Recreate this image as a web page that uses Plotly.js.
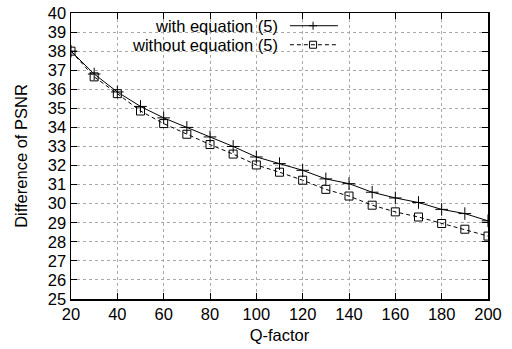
<!DOCTYPE html>
<html>
<head>
<meta charset="utf-8">
<script src="https://cdn.plot.ly/plotly-3.0.1.min.js"></script>
<style>html,body{margin:0;padding:0;background:#fff;}#chart{width:512px;height:349px;}</style>
</head>
<body>
<div id="chart"></div>
<script>
var qFactor = [20, 30, 40, 50, 60, 70, 80, 90, 100, 110, 120, 130, 140, 150, 160, 170, 180, 190, 200];
var withEq = [38.0, 36.8, 35.86, 35.1, 34.5, 34.0, 33.5, 33.0, 32.45, 32.1, 31.75, 31.3, 31.05, 30.6, 30.3, 30.06, 29.7, 29.48, 29.1];
var withoutEq = [38.0, 36.65, 35.77, 34.86, 34.2, 33.64, 33.1, 32.6, 32.03, 31.65, 31.23, 30.75, 30.4, 29.92, 29.57, 29.3, 28.96, 28.66, 28.3];
var seriesNames = ["with equation (5)", "without equation (5)"];
var xTicks = [20, 40, 60, 80, 100, 120, 140, 160, 180, 200];
var yTicks = [25, 26, 27, 28, 29, 30, 31, 32, 33, 34, 35, 36, 37, 38, 39, 40];

var font = {family: "Liberation Sans, Arial, sans-serif", size: 16.5, color: "#000"};
var legFont = {family: "Liberation Sans, Arial, sans-serif", size: 16.5, color: "#000"};

var traces = [
  {x: qFactor, y: withEq, name: seriesNames[0], mode: "lines+markers", type: "scatter",
   line: {color: "#000", width: 1},
   marker: {symbol: "cross-thin-open", size: 9, color: "#000", line: {color: "#000", width: 1}}},
  {x: qFactor, y: withoutEq, name: seriesNames[1], mode: "lines+markers", type: "scatter",
   line: {color: "#000", width: 1, dash: "4px,3px"},
   marker: {symbol: "square-open", size: 8, color: "#000", line: {color: "#000", width: 1}}}
];

// legend geometry (paper coords)
var lx0 = 0.525, lx1 = 0.640, lm = 0.5805, ly = [0.9555, 0.889];
function pxShape(type, xa, ya, x0, x1, y0, y1, line) {
  return {type: type, xref: "paper", yref: "paper", xsizemode: "pixel", ysizemode: "pixel",
          xanchor: xa, yanchor: ya, x0: x0, x1: x1, y0: y0, y1: y1, line: line, fillcolor: "rgba(0,0,0,0)"};
}
var blk = {color: "#000", width: 1};
var shapes = [
  {type: "line", xref: "paper", yref: "paper", x0: lx0, x1: lx1, y0: ly[0], y1: ly[0], line: blk},
  {type: "line", xref: "paper", yref: "paper", x0: lx0, x1: lx1, y0: ly[1], y1: ly[1], line: {color: "#000", width: 1, dash: "4px,3px"}},
  pxShape("line", lm, ly[0], -4, 4, 0, 0, blk),
  pxShape("line", lm, ly[0], 0, 0, -4, 4, blk),
  pxShape("rect", lm, ly[1], -3.5, 3.5, -3.5, 3.5, blk)
];
var annotations = [
  {xref: "paper", yref: "paper", x: 0.499, y: ly[0], text: seriesNames[0], showarrow: false, xanchor: "right", yanchor: "middle", font: legFont, borderpad: 0},
  {xref: "paper", yref: "paper", x: 0.499, y: ly[1], text: seriesNames[1], showarrow: false, xanchor: "right", yanchor: "middle", font: legFont, borderpad: 0}
];

var layout = {
  width: 512, height: 349,
  margin: {l: 71, r: 24, t: 13, b: 50},
  paper_bgcolor: "#fff", plot_bgcolor: "#fff",
  font: font,
  showlegend: false,
  xaxis: {
    range: [20, 200], tickvals: xTicks, ticktext: xTicks.map(String),
    showline: true, linecolor: "#000", linewidth: 1.5, mirror: "ticks",
    ticks: "inside", ticklen: 6, tickcolor: "#000", tickwidth: 1,
    showgrid: true, gridcolor: "#aaa", griddash: "dot", gridwidth: 1,
    zeroline: false, tickfont: font,
    title: {text: "Q-factor", font: font, standoff: 7}
  },
  yaxis: {
    range: [25, 40], tickvals: yTicks, ticktext: yTicks.map(String),
    showline: true, linecolor: "#000", linewidth: 1.5, mirror: "ticks",
    ticks: "inside", ticklen: 6, tickcolor: "#000", tickwidth: 1,
    showgrid: true, gridcolor: "#aaa", griddash: "dot", gridwidth: 1,
    zeroline: false, tickfont: font,
    title: {text: "Difference of PSNR", font: font, standoff: 16}
  },
  shapes: shapes,
  annotations: annotations
};

Plotly.newPlot("chart", traces, layout, {staticPlot: true, displayModeBar: false});
</script>
</body>
</html>
